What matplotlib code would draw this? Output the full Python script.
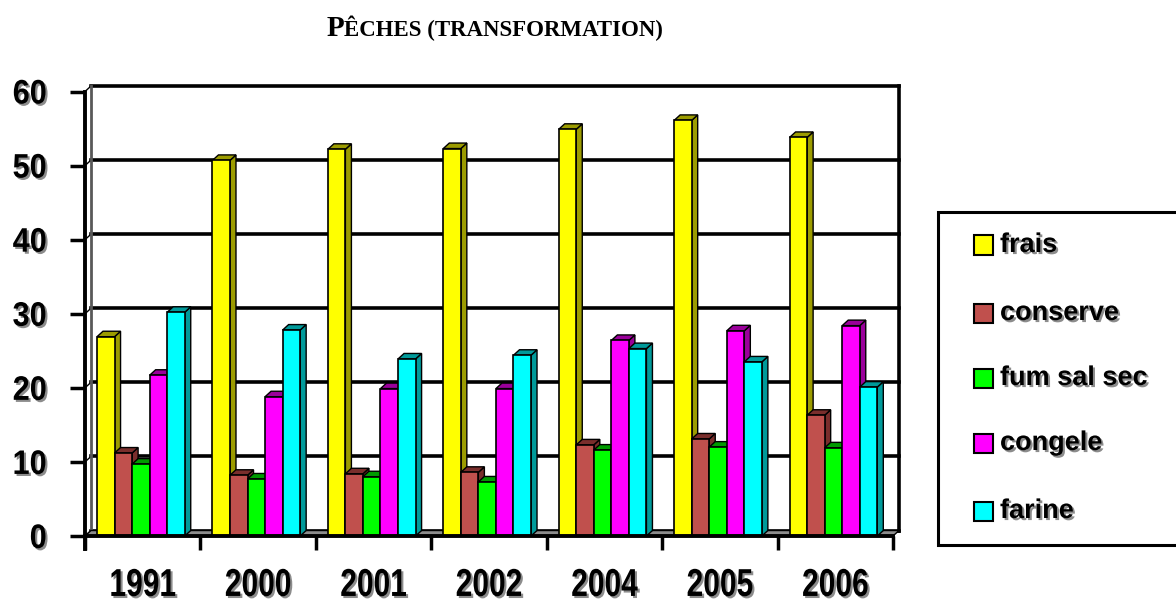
import numpy as np
import matplotlib
matplotlib.use('Agg')
import matplotlib.pyplot as plt
from matplotlib.patches import Polygon, Rectangle
from matplotlib.transforms import Affine2D
import matplotlib.patheffects as pe

years = ['1991', '2000', '2001', '2002', '2004', '2005', '2006']
series = ['frais', 'conserve', 'fum sal sec', 'congele', 'farine']

frais = [26.9, 50.7, 52.2, 52.3, 54.9, 56.1, 53.8]
conserve = [11.2, 8.2, 8.4, 8.6, 12.3, 13.1, 16.3]
fum_sal_sec = [9.7, 7.7, 8.0, 7.3, 11.6, 12.0, 11.9]
congele = [21.7, 18.8, 19.9, 19.9, 26.4, 27.7, 28.4]
farine = [30.2, 27.8, 23.9, 24.4, 25.3, 23.5, 20.1]

values = [frais, conserve, fum_sal_sec, congele, farine]
front = ['#FFFF00', '#C0504D', '#00FF00', '#FF00FF', '#00FFFF']
side = ['#9C9C00', '#7A2E2C', '#009A00', '#9A009A', '#009A9A']

W, H = 1176, 602
fig = plt.figure(figsize=(W / 100, H / 100), dpi=100)

def fx(x):
    return x / W

def fy(y):
    return 1 - y / H


class Narrow(pe.AbstractPathEffect):
    """squeeze the text horizontally (no narrow font installed) + grey drop shadow"""
    def __init__(self, sx=1.0, anchor='center', shadow=1.5):
        super().__init__()
        self.sx = sx
        self.anchor = anchor
        self.shadow = shadow

    def draw_path(self, renderer, gc, tpath, affine, rgbFace=None):
        ext = tpath.get_extents(affine)
        cx = {'center': (ext.x0 + ext.x1) / 2, 'right': ext.x1, 'left': ext.x0}[self.anchor]
        aff = affine + Affine2D().translate(-cx, 0).scale(self.sx, 1).translate(cx, 0)
        s = renderer.points_to_pixels(self.shadow)
        renderer.draw_path(gc, tpath, aff + Affine2D().translate(s, -s), (0.55, 0.55, 0.55))
        renderer.draw_path(gc, tpath, aff, rgbFace)


# axes area in pixels: front axis x 85..893, y 536 (0) .. 91.5 (60)
ax = fig.add_axes([fx(85), fy(536), (893 - 85) / W, (536 - 91.5) / H])
ax.set_xlim(0, 7)
ax.set_ylim(0, 60)

dx, dy = 0.052, 0.74  # depth offset in data units

# back wall gridlines
for v in range(0, 70, 10):
    ax.plot([dx, 7 + dx], [v + dy, v + dy], color='black', lw=2.6, zorder=1, clip_on=False)
    ax.plot([0, dx], [v, v + dy], color='black', lw=1, zorder=1, clip_on=False)
ax.plot([dx, dx], [dy, 60 + dy], color='0.35', lw=2, zorder=1, clip_on=False)
ax.plot([7 + dx, 7 + dx], [dy, 60 + dy], color='black', lw=2.6, zorder=1, clip_on=False)

# floor
ax.add_patch(Polygon([(0, 0), (7, 0), (7 + dx, dy), (dx, dy)], closed=True,
                     facecolor='0.55', edgecolor='black', lw=1, zorder=2, clip_on=False))

bw = 0.152
start = 0.104
for i in range(len(years)):
    for j in range(len(series)):
        v = values[j][i]
        x0 = i + start + j * bw
        ax.add_patch(Polygon([(x0 + bw, 0), (x0 + bw + dx, dy), (x0 + bw + dx, v + dy), (x0 + bw, v)],
                             closed=True, facecolor=side[j], edgecolor='black', lw=1, zorder=3))
        ax.add_patch(Polygon([(x0, v), (x0 + dx, v + dy), (x0 + bw + dx, v + dy), (x0 + bw, v)],
                             closed=True, facecolor=side[j], edgecolor='black', lw=1, zorder=3, clip_on=False))
        ax.add_patch(Rectangle((x0, 0), bw, v, facecolor=front[j], edgecolor='black', lw=1.2, zorder=3))

for s in ['top', 'right']:
    ax.spines[s].set_visible(False)
for s in ['left', 'bottom']:
    ax.spines[s].set_linewidth(2.8)
    ax.spines[s].set_zorder(5)
ax.plot([0, 0], [-1.75, 0], color='black', lw=2.8, clip_on=False, zorder=5)

ax.set_yticks(range(0, 70, 10))
ax.set_xticks(range(0, 8))
ax.set_xticklabels([])
ax.set_xticks(np.arange(7) + 0.5, minor=True)
ax.set_xticklabels(years, minor=True)
ax.tick_params(axis='y', direction='out', length=10.5, width=2.5, pad=17)
ax.tick_params(axis='x', which='major', direction='out', length=10, width=2.5)
ax.tick_params(axis='x', which='minor', length=0, pad=23)
for lab in ax.get_yticklabels():
    lab.set_fontfamily('Liberation Sans')
    lab.set_fontweight('bold')
    lab.set_fontsize(24.5)
    lab.set_path_effects([Narrow(0.9, 'right')])
for lab in ax.get_xticklabels(minor=True):
    lab.set_fontfamily('Liberation Sans')
    lab.set_fontweight('bold')
    lab.set_fontsize(28)
    lab.set_path_effects([Narrow(0.77, 'center')])
ax.set_facecolor('none')

# title in small caps
fig.text(fx(344), fy(36), 'P', ha='right', va='baseline', fontsize=21,
         fontweight='bold', family='Liberation Serif')
fig.text(fx(344), fy(36), 'ÊCHES (TRANSFORMATION)', ha='left', va='baseline', fontsize=16.5,
         fontweight='bold', family='Liberation Serif')

# legend
fig.add_artist(Rectangle((fx(938), fy(545)), (W + 5 - 938) / W, (545 - 212) / H,
                         transform=fig.transFigure, facecolor='white', edgecolor='black', lw=2.2))
ly = [245, 313, 378, 443, 511]
for j, name in enumerate(series):
    fig.add_artist(Rectangle((fx(974), fy(ly[j] + 9.5)), 19 / W, 19 / H, transform=fig.transFigure,
                             facecolor=front[j], edgecolor='black', lw=1.5))
    fig.text(fx(1000), fy(ly[j]), name, ha='left', va='center', fontsize=19.5,
             fontweight='bold', family='Liberation Sans', path_effects=[Narrow(1.0, 'left')])

fig.savefig('out.png', dpi=100)
